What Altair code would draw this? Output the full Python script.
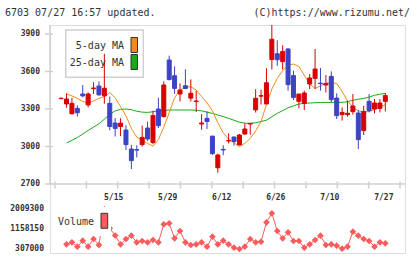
import altair as alt
import pandas as pd

# ---------------- data ----------------
idx = list(range(61))
opens = [3383, 3340, 3262, 3305, 3420, 3333, 3463, 3484, 3405, 3345,
         3188, 3160, 3132, 2980, 2976, 3015, 3148, 3033, 3300, 3239,
         3692, 3566, 3420, 3486, 3387, 3360, 3180, 3225, 3083, 2830,
         2977, 3044, 3076, 3013, 3100, 3180, 3293, 3403, 3340, 3696,
         3742, 3679, 3780, 3567, 3361, 3345, 3500, 3545, 3507, 3492,
         3561, 3388, 3255, 3255, 3279, 3268, 3127, 3361, 3300, 3305, 3361]
highs = [3392, 3425, 3388, 3330, 3492, 3433, 3515, 3521, 3742, 3400,
         3228, 3226, 3170, 3013, 3010, 3167, 3199, 3287, 3390, 3521,
         3727, 3641, 3505, 3618, 3537, 3445, 3258, 3281, 3085, 2942,
         3010, 3106, 3078, 3100, 3185, 3188, 3458, 3455, 3626, 3972,
         3850, 3810, 3788, 3607, 3420, 3447, 3580, 3780, 3628, 3572,
         3601, 3425, 3313, 3367, 3420, 3292, 3327, 3420, 3380, 3380, 3428]
lows = [3378, 3310, 3258, 3240, 3393, 3313, 3420, 3407, 3342, 3130,
        3080, 3083, 2972, 2820, 2913, 3000, 3045, 3020, 3148, 3233,
        3527, 3420, 3360, 3462, 3360, 3276, 3135, 3140, 2932, 2790,
        2930, 3025, 3007, 3010, 3092, 3094, 3272, 3336, 3340, 3616,
        3645, 3616, 3447, 3372, 3305, 3292, 3460, 3460, 3447, 3433,
        3353, 3220, 3207, 3239, 3255, 2980, 3092, 3273, 3265, 3273, 3281]
closes = [3386, 3380, 3345, 3270, 3405, 3420, 3468, 3413, 3466, 3160,
          3145, 3187, 3015, 2887, 2971, 3073, 3060, 3247, 3167, 3492,
          3536, 3465, 3452, 3464, 3426, 3364, 3188, 3200, 2943, 2932,
          2972, 3048, 3040, 3092, 3140, 3185, 3386, 3407, 3510, 3858,
          3694, 3760, 3495, 3393, 3420, 3428, 3548, 3620, 3503, 3505,
          3375, 3247, 3273, 3266, 3324, 3055, 3281, 3287, 3348, 3348, 3407]

# moving averages and volume start at candle 1
ma5 = [3420, 3405, 3385, 3360, 3350, 3365, 3385, 3400, 3432, 3390,
       3320, 3245, 3145, 3075, 3050, 3025, 3003, 3055, 3155, 3270,
       3390, 3450, 3475, 3478, 3452, 3400, 3350, 3285, 3190, 3110,
       3058, 3030, 3000, 3025, 3065, 3125, 3200, 3335, 3460, 3545,
       3608, 3650, 3660, 3640, 3570, 3500, 3465, 3485, 3505, 3510,
       3505, 3440, 3365, 3315, 3285, 3275, 3280, 3295, 3312, 3335]
ma25 = [3028, 3050, 3072, 3100, 3128, 3155, 3182, 3218, 3258, 3285,
        3297, 3300, 3295, 3282, 3275, 3273, 3278, 3285, 3288, 3292,
        3292, 3292, 3292, 3292, 3290, 3285, 3275, 3265, 3252, 3240,
        3225, 3210, 3195, 3187, 3185, 3190, 3200, 3210, 3238, 3265,
        3287, 3310, 3325, 3340, 3345, 3348, 3350, 3352, 3353, 3353,
        3353, 3353, 3358, 3370, 3378, 3385, 3395, 3410, 3418, 3425]
volume = [508000, 594000, 406000, 663000, 406000, 736000, 479000, 2009300, 1200000, 886000,
          508000, 736000, 877000, 594000, 650000, 594000, 693000, 594000, 1366000, 1409000,
          766000, 1079000, 594000, 479000, 508000, 594000, 406000, 834000, 508000, 663000,
          508000, 363000, 307000, 406000, 736000, 594000, 620000, 1452000, 1838000, 1079000,
          766000, 1023000, 650000, 650000, 363000, 508000, 693000, 877000, 479000, 508000,
          448000, 320000, 406000, 1049000, 877000, 736000, 650000, 406000, 594000, 551000]

date_idx = [10, 20, 30, 40, 50, 60]
date_labels = ["5/15", "5/29", "6/12", "6/26", "7/10", "7/27"]
price_ticks = [2700, 3000, 3300, 3600, 3900]
vol_ticks = [307000, 1158150, 2009300]

# ---------------- style ----------------
RED = "#d90000"
BLUE = "#3c44c4"
ORANGE = "#f08c1a"
GREEN = "#1aa91a"
VOLC = "#fa5c5c"
GRID = "#d0d0d0"
TXT = "#333333"
FONT = "DejaVu Sans Mono"

W, H = 355, 228
X_DOM = [-1.133, 62.716]
P_DOM = [2148, 3972]
V_DOM = [135484, 9911900]

xs = alt.Scale(domain=X_DOM, nice=False, zero=False)
ps = alt.Scale(domain=P_DOM, nice=False, zero=False)
vs = alt.Scale(domain=V_DOM, nice=False, zero=False)
dir_scale = alt.Scale(domain=["up", "down"], range=[RED, BLUE])

candles = pd.DataFrame({"i": idx, "open": opens, "high": highs, "low": lows, "close": closes})
candles["dir"] = ["up" if c >= o else "down" for o, c in zip(opens, closes)]
ma_df = pd.DataFrame({"i": idx[1:], "ma5": ma5, "ma25": ma25, "vol": volume})
one = pd.DataFrame({"a": [0]})
ptick_df = pd.DataFrame({"v": price_ticks})
vtick_df = pd.DataFrame({"v": vol_ticks})
dates_df = pd.DataFrame({"i": date_idx, "lab": date_labels})
xt_df = pd.DataFrame({"t": [X_DOM[0] + k * (X_DOM[1] - X_DOM[0]) / 11 for k in range(12)]})

X = lambda f: alt.X(f, scale=xs, axis=None)
PY = lambda f: alt.Y(f, scale=ps, axis=None)
VY = lambda f: alt.Y(f, scale=vs, axis=None)

# ---------------- price panel ----------------
legend_box = alt.Chart(one).mark_rect(fill="white", stroke=GRID, strokeWidth=1.5).encode(
    x=alt.value(15.7), x2=alt.value(93.3), y=alt.value(5), y2=alt.value(52.3))
y_line = alt.Chart(one).mark_rule(color=GRID, strokeWidth=1.5).encode(
    x=alt.value(0), y=alt.value(0), y2=alt.value(159))
x_line = alt.Chart(one).mark_rule(color=GRID, strokeWidth=1.5).encode(
    x=alt.value(0), x2=alt.value(W), y=alt.value(159))
y_ticks = alt.Chart(ptick_df).mark_rule(color=GRID, strokeWidth=1.5).encode(
    y=PY("v:Q"), x=alt.value(-5), x2=alt.value(3))
y_labels = alt.Chart(ptick_df).mark_text(
    align="right", baseline="middle", font=FONT, fontSize=8, fontWeight="bold", color=TXT
).encode(y=PY("v:Q"), x=alt.value(-10), text=alt.Text("v:Q", format="d"))
x_ticks = alt.Chart(xt_df).mark_rule(color=GRID, strokeWidth=1.5).encode(
    x=X("t:Q"), y=alt.value(156.5), y2=alt.value(163.5))
x_labels = alt.Chart(dates_df).mark_text(
    align="center", baseline="middle", font=FONT, fontSize=8, fontWeight="bold", color=TXT, dx=-1.5
).encode(x=X("i:Q"), y=alt.value(172.5), text="lab:N")

wicks = alt.Chart(candles).mark_rule(strokeWidth=1).encode(
    x=X("i:Q"), y=PY("low:Q"), y2="high:Q",
    color=alt.Color("dir:N", scale=dir_scale, legend=None))
bodies = alt.Chart(candles).mark_bar(size=4, strokeWidth=1).encode(
    x=X("i:Q"), y=PY("open:Q"), y2="close:Q",
    color=alt.Color("dir:N", scale=dir_scale, legend=None),
    stroke=alt.Stroke("dir:N", scale=dir_scale, legend=None))
line5 = alt.Chart(ma_df).mark_line(color=ORANGE, strokeWidth=1).encode(x=X("i:Q"), y=PY("ma5:Q"))
line25 = alt.Chart(ma_df).mark_line(color=GREEN, strokeWidth=1).encode(x=X("i:Q"), y=PY("ma25:Q"))

def label(text, x, y, align="left", size=10):
    return alt.Chart(one).mark_text(
        text=text, align=align, baseline="middle", font=FONT, fontSize=size, color=TXT
    ).encode(x=alt.value(x), y=alt.value(y))

def swatch(x1, x2, y1, y2, color):
    return alt.Chart(one).mark_rect(fill=color, stroke="#333333", strokeWidth=1).encode(
        x=alt.value(x1), x2=alt.value(x2), y=alt.value(y1), y2=alt.value(y2))

price_panel = alt.layer(
    legend_box, y_line, x_line, y_ticks, y_labels, x_ticks, x_labels,
    line25, line5, wicks, bodies,
    label("5-day MA", 74, 21, "right"), label("25-day MA", 74, 37.5, "right"),
    swatch(81, 87.5, 12.5, 27.5, ORANGE), swatch(81, 87.5, 29.5, 44.5, GREEN),
    label("6703 07/27 16:57 updated.", -45, -12), label("(C)https://www.rizumu.net/", 360, -12, "right"),
)

# ---------------- volume panel ----------------
vol_line = alt.Chart(ma_df).mark_line(color=VOLC, strokeWidth=1).encode(x=X("i:Q"), y=VY("vol:Q"))
vol_pts = alt.Chart(ma_df).mark_point(shape="diamond", filled=True, size=45, color=VOLC, opacity=1).encode(
    x=X("i:Q"), y=VY("vol:Q"))
vol_labels = alt.Chart(vtick_df).mark_text(
    align="right", baseline="middle", font=FONT, fontSize=8, fontWeight="bold", color=TXT
).encode(y=VY("v:Q"), x=alt.value(-6), text=alt.Text("v:Q", format="d"))
vol_box = alt.Chart(one).mark_rect(fill="white").encode(
    x=alt.value(4), x2=alt.value(61), y=alt.value(182), y2=alt.value(211))

volume_panel = alt.layer(
    vol_line, vol_pts, vol_labels, vol_box,
    label("Volume", 44, 197.3, "right"),
    swatch(51, 57.7, 188.3, 203.3, VOLC),
)

chart = alt.layer(price_panel, volume_panel).resolve_scale(y="independent").properties(
    width=W, height=H,
    autosize=alt.AutoSizeParams(type="none"),
    padding={"left": 50, "top": 25, "right": 15, "bottom": 6},
).configure_view(stroke=None).configure(background="white")

chart.save("out.html", embed_options={"renderer": "svg", "actions": False})
